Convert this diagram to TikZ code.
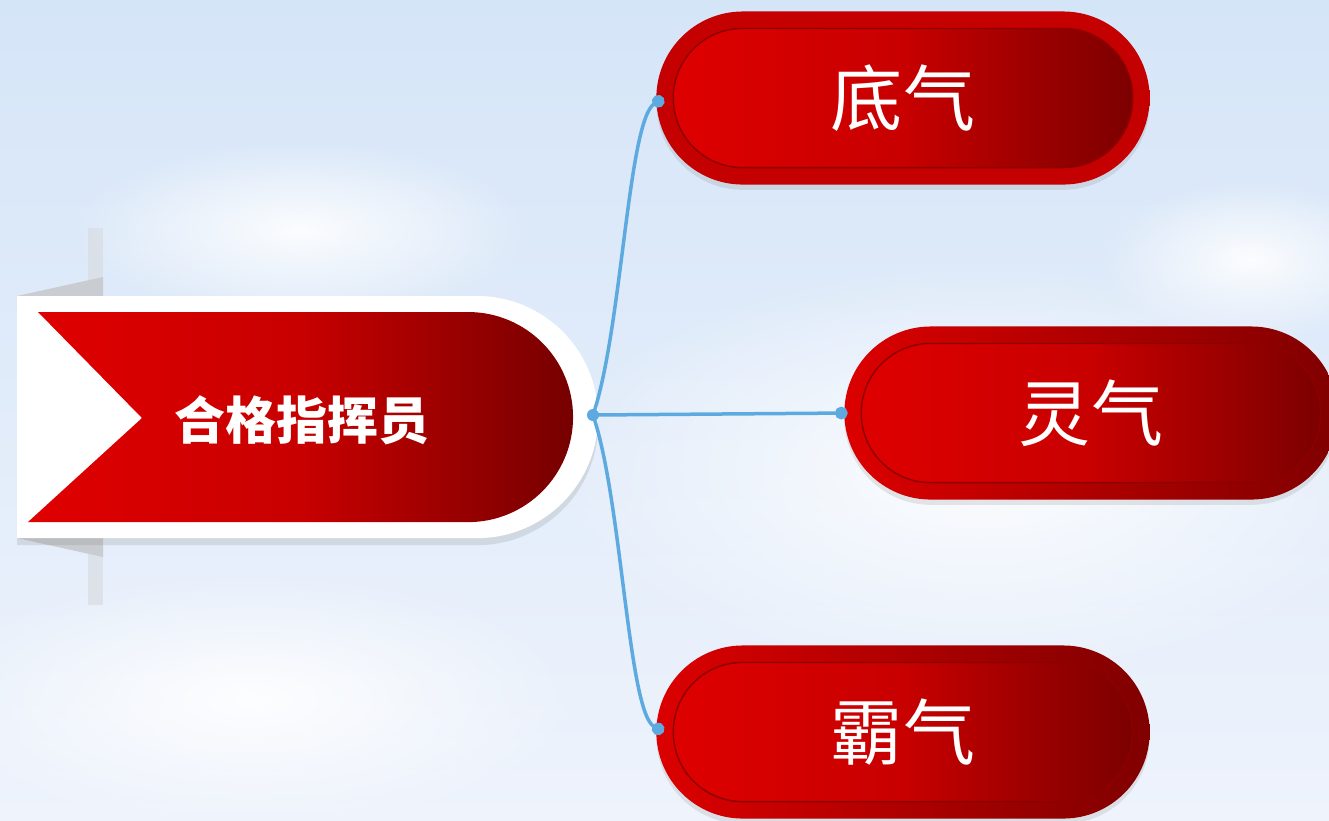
\documentclass[tikz,border=0pt]{standalone}
\usepackage{fontspec}
\newfontfamily\cjk{Noto Sans CJK SC}
\usetikzlibrary{shapes.misc,shadows,fadings,arrows.meta}

\definecolor{skytop}{HTML}{D5E5F8}
\definecolor{skybot}{HTML}{EEF3FC}
\definecolor{redhi}{HTML}{E00000}
\definecolor{redmid}{HTML}{C80000}
\definecolor{redlo}{HTML}{760000}
\definecolor{rimhi}{HTML}{DC0000}
\definecolor{rimlo}{HTML}{800000}
\definecolor{rimflat}{HTML}{C40000}
\definecolor{innerline}{HTML}{8C0000}
\definecolor{linkblue}{HTML}{5DAAE0}
\definecolor{foldgray}{HTML}{C9CCD0}
\definecolor{stripgray}{HTML}{D9DDE2}

\tikzfading[name=cloudfade, inner color=transparent!10, outer color=transparent!100]

\begin{document}
\begin{tikzpicture}[x=0.01cm, y=-0.01cm,
    pill/.style={shape=rounded rectangle, minimum width=4.93cm, minimum height=1.73cm, inner sep=0pt,
      left color=rimhi, right color=rimlo, text=white, font=\cjk\fontsize{20.5}{24}\selectfont,
      drop shadow={opacity=0.18, shadow xshift=0pt, shadow yshift=-1.5pt},
      path picture={
        \shade[left color=redhi, right color=redlo, middle color=redmid, draw=innerline, line width=0.4pt, rounded corners=0.69cm]
          ([shift={(0.17cm,0.17cm)}]path picture bounding box.south west) rectangle
          ([shift={(-0.17cm,-0.17cm)}]path picture bounding box.north east);
      }},
    title/.style={text=white, font=\cjk\bfseries\fontsize{14.5}{17}\selectfont},
    hubdot/.style={circle, fill=linkblue, inner sep=0pt, minimum size=0.12cm},
    link/.style={draw=linkblue, line width=0.035cm, -{Circle[length=3.6pt]}},
  ]
    \useasboundingbox (0,0) rectangle (1329,820);
    \clip (0,0) rectangle (1329,820);

    % sky
    \fill[top color=skytop, bottom color=skybot] (0,0) rectangle (1329,820);
    \fill[white, path fading=cloudfade] (980,470) ellipse (430 and 210);
    \fill[white, path fading=cloudfade] (300,230) ellipse (230 and 90);
    \fill[white, path fading=cloudfade] (250,700) ellipse (330 and 130);
    \fill[white, path fading=cloudfade] (1250,260) ellipse (150 and 80);

    % banner
    \fill[stripgray, opacity=0.7] (88,228) rectangle (103,605);
    \fill[foldgray] (17,296) -- (103,277) -- (103,296) -- cycle;
    \fill[foldgray] (17,538) -- (103,557) -- (103,538) -- cycle;
    \fill[white, drop shadow={opacity=0.2, shadow xshift=0pt, shadow yshift=-2pt}]
      (17,296) -- (477,296) arc[start angle=90, end angle=-90, radius=1.21cm] -- (17,538) -- cycle;
    \shade[left color=redhi, right color=redlo, middle color=redmid]
      (38,312) -- (468,312) arc[start angle=90, end angle=-90, radius=1.05cm] -- (28,522) -- (142,418) -- cycle;
    \node[title] (zhihui) at (302,420) {合格指挥员};

    % branches
    \node[pill, left color=rimflat, right color=rimflat] (diqi) at (903,98) {底气};
    \node[pill] (lingqi) at (1091,413) {灵气};
    \node[pill] (baqi) at (903,732) {霸气};

    \draw[link] (593,415) node[hubdot] (hub) {} .. controls (622,330) and (628,120) .. ([xshift=0.08cm]diqi.west);
    \draw[link] (hub.center) -- ([xshift=0.04cm]lingqi.west);
    \draw[link] (hub.center) .. controls (622,500) and (628,712) .. ([xshift=0.08cm]baqi.west);
\end{tikzpicture}
\end{document}
